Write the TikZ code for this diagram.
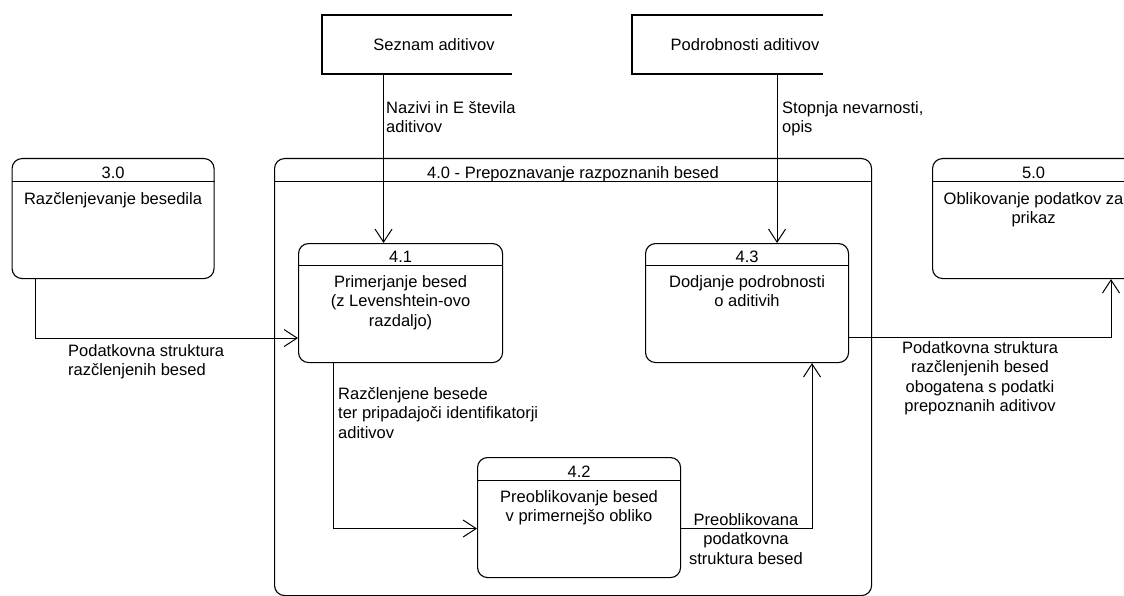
\documentclass[tikz,border=0pt]{standalone}
\usepackage{fontspec}
\setmainfont{Liberation Sans}
\usetikzlibrary{arrows.meta,calc}

\tikzset{
  every node/.style={font=\fontsize{16.5}{19.5}\selectfont, text=black, inner sep=0pt},
  procbox/.style={draw, line width=1.1pt, rounded corners=10pt, minimum width=202pt,
    minimum height=120pt, anchor=north west},
  groupbox/.style={draw, line width=1.1pt, rounded corners=10pt, minimum width=597pt,
    minimum height=437pt, anchor=north west},
  storebox/.style={minimum height=59pt, anchor=north west},
  storeedge/.style={line width=2pt},
  hdr/.style={line width=1.1pt},
  idtext/.style={anchor=base},
  bodytext/.style={anchor=north, align=center},
  flowlabel/.style={anchor=north west, align=left},
  flowlabelc/.style={anchor=north, align=center},
  flow/.style={line width=1pt, -{Straight Barb[length=13pt, width=17pt, line width=1pt]}},
}

\begin{document}
\begin{tikzpicture}[x=1pt, y=-1pt]
  \useasboundingbox (0,0) rectangle (1124,596);
  \clip (0,0) rectangle (1124,596);

  % external data stores (open on the right)
  \node[storebox, minimum width=190pt] (seznam) at (322,15) {};
  \draw[storeedge] (seznam.north east) -- (seznam.north west) -- (seznam.south west) -- (seznam.south east);
  \node (seznamtxt) at (434,44.5) {Seznam aditivov};

  \node[storebox, minimum width=191pt] (podr) at (632,15) {};
  \draw[storeedge] (podr.north east) -- (podr.north west) -- (podr.south west) -- (podr.south east);
  \node (podrtxt) at (745,44.5) {Podrobnosti aditivov};

  % process 3.0
  \node[procbox] (p30) at (11.5,158) {};
  \draw[hdr] ([yshift=-23.5pt]p30.north west) -- ([yshift=-23.5pt]p30.north east);
  \node[idtext] (p30id) at ([yshift=-21pt]p30.north) {3.0};
  \node[bodytext] (p30txt) at ([yshift=-34pt]p30.north) {Razčlenjevanje besedila};

  % process 5.0
  \node[procbox] (p50) at (932,158) {};
  \draw[hdr] ([yshift=-23.5pt]p50.north west) -- ([yshift=-23.5pt]p50.north east);
  \node[idtext] (p50id) at ([yshift=-21pt]p50.north) {5.0};
  \node[bodytext] (p50txt) at ([yshift=-34pt]p50.north) {Oblikovanje podatkov za\\prikaz};

  % group 4.0
  \node[groupbox] (c40) at (274,158) {};
  \draw[hdr] ([yshift=-23.5pt]c40.north west) -- ([yshift=-23.5pt]c40.north east);
  \node[idtext] (c40id) at ([yshift=-20.5pt]c40.north) {4.0 - Prepoznavanje razpoznanih besed};

  % sub-processes
  \node[procbox, minimum width=204pt, minimum height=119pt] (p41) at (298,243) {};
  \draw[hdr] ([yshift=-22.5pt]p41.north west) -- ([yshift=-22.5pt]p41.north east);
  \node[idtext] (p41id) at ([yshift=-19.5pt]p41.north) {4.1};
  \node[bodytext] (p41txt) at ([yshift=-32pt]p41.north) {Primerjanje besed\\(z Levenshtein-ovo\\razdaljo)};

  \node[procbox, minimum width=203pt, minimum height=119pt] (p43) at (645,243) {};
  \draw[hdr] ([yshift=-22.5pt]p43.north west) -- ([yshift=-22.5pt]p43.north east);
  \node[idtext] (p43id) at ([yshift=-19.5pt]p43.north) {4.3};
  \node[bodytext] (p43txt) at ([yshift=-32pt]p43.north) {Dodjanje podrobnosti\\o aditivih};

  \node[procbox, minimum width=203pt] (p42) at (477,457) {};
  \draw[hdr] ([yshift=-23.5pt]p42.north west) -- ([yshift=-23.5pt]p42.north east);
  \node[idtext] (p42id) at ([yshift=-20.5pt]p42.north) {4.2};
  \node[bodytext] (p42txt) at ([yshift=-33pt]p42.north) {Preoblikovanje besed\\v primernejšo obliko};

  % connector end points
  \coordinate (in41) at ([xshift=-17pt]p41.north);
  \coordinate (in43) at ([xshift=30pt]p43.north);
  \coordinate (out30) at ([xshift=23.5pt]p30.south west);
  \coordinate (in41w) at ([yshift=-35pt]p41.west);
  \coordinate (out41) at ([xshift=35pt]p41.south west);
  \coordinate (in42w) at ([yshift=-11pt]p42.west);
  \coordinate (out42e) at ([yshift=-11pt]p42.east);
  \coordinate (in43s) at ([xshift=167pt]p43.south west);
  \coordinate (out43e) at ([yshift=-34.5pt]p43.east);
  \coordinate (in50s) at ([xshift=179pt]p50.south west);

  % data flows
  \draw[flow] (seznam.south -| in41) -- (in41);
  \draw[flow] (podr.south -| in43) -- (in43);
  \draw[flow] (out30) |- (in41w);
  \draw[flow] (out41) |- (in42w);
  \draw[flow] (out42e) -| (in43s);
  \draw[flow] (out43e) -| (in50s);

  % flow labels
  \node[flowlabel] (lnazivi) at (386,101) {Nazivi in E števila\\aditivov};
  \node[flowlabel] (lstopnja) at (782,101) {Stopnja nevarnosti,\\opis};
  \node[flowlabel] (lstrukt) at (68,344) {Podatkovna struktura\\razčlenjenih besed};
  \node[flowlabel] (lrazcl) at (338,387) {Razčlenjene besede\\ter pripadajoči identifikatorji\\aditivov};
  \node[flowlabelc] (lpreobl) at (746,513) {Preoblikovana\\podatkovna\\struktura besed};
  \node[flowlabelc] (lobog) at (980,341) {Podatkovna struktura\\razčlenjenih besed\\obogatena s podatki\\prepoznanih aditivov};
\end{tikzpicture}
\end{document}
